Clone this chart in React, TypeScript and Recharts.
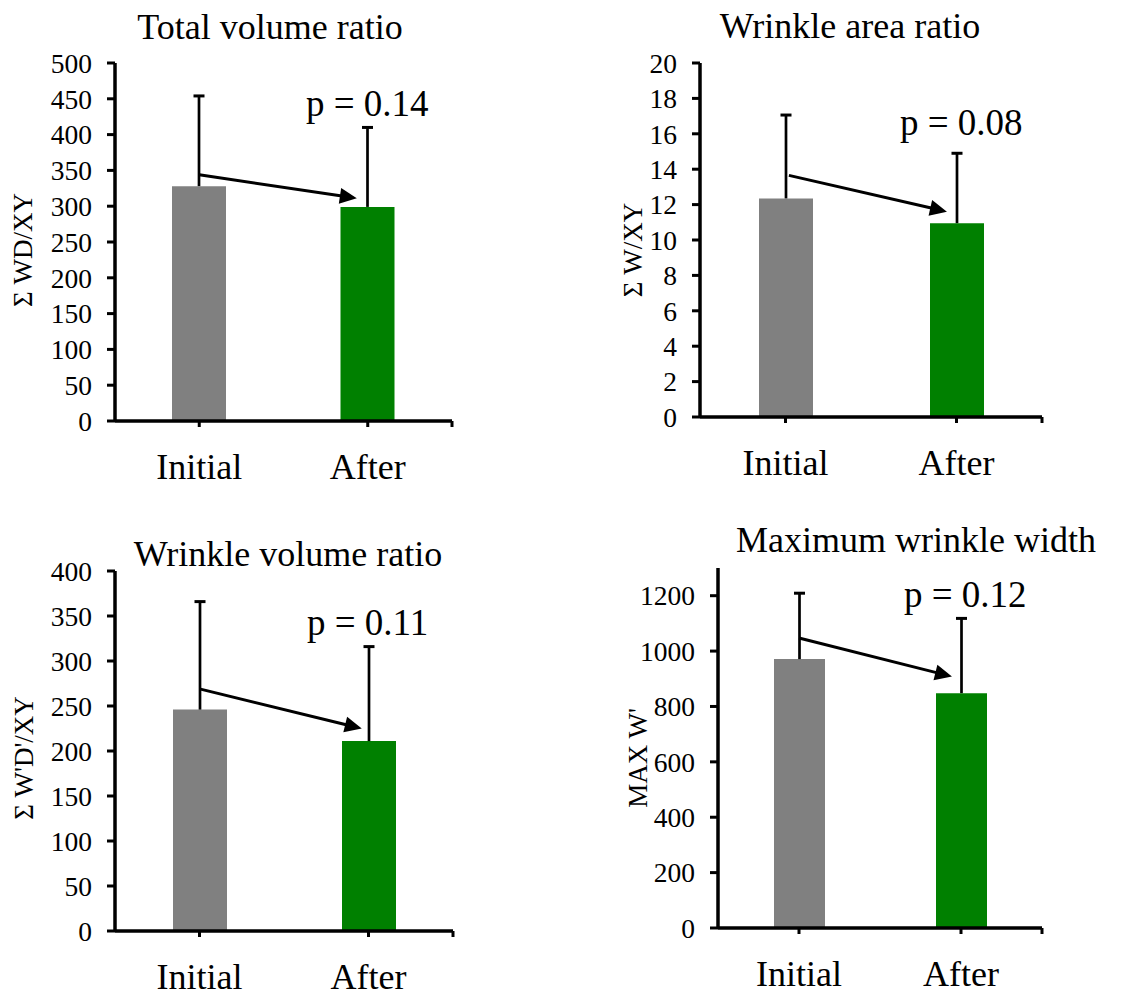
import React from 'react';
import { BarChart, Bar, XAxis, YAxis, Cell, ReferenceLine } from 'recharts';

// ---------- data ----------
const categories = ['Initial', 'After'];
const barColors = ['#808080', '#008000'];

const totalVolumeMean = [328, 299];
const totalVolumeSD = [126, 111];
const totalVolumeArrow = [344, 311];
const totalVolumeTicks = [0, 50, 100, 150, 200, 250, 300, 350, 400, 450, 500];

const wrinkleAreaMean = [12.35, 10.95];
const wrinkleAreaSD = [4.71, 3.95];
const wrinkleAreaArrow = [13.65, 11.6];
const wrinkleAreaTicks = [0, 2, 4, 6, 8, 10, 12, 14, 16, 18, 20];

const wrinkleVolumeMean = [246, 211];
const wrinkleVolumeSD = [120, 105];
const wrinkleVolumeArrow = [269, 225];
const wrinkleVolumeTicks = [0, 50, 100, 150, 200, 250, 300, 350, 400];

const maxWidthMean = [971, 848];
const maxWidthSD = [238, 270];
const maxWidthArrow = [1047, 908];
const maxWidthTicks = [0, 200, 400, 600, 800, 1000, 1200];

const titles = ['Total volume ratio', 'Wrinkle area ratio', 'Wrinkle volume ratio', 'Maximum wrinkle width'];
const yLabels = ['Σ WD/XY', 'Σ W/XY', "Σ W'D'/XY", "MAX W'"];
const pValues = ['p = 0.14', 'p = 0.08', 'p = 0.11', 'p = 0.12'];

const FONT = "'Times New Roman', 'Liberation Serif', serif";

function ErrorShape(props: any) {
  const { x, y, width, height } = props;
  if (x == null || y == null) return null;
  const cx = x + width / 2;
  return (
    <g>
      <line x1={cx} y1={y + height} x2={cx} y2={y} stroke="#000" strokeWidth={2.7} />
      <line x1={cx - 5.5} x2={cx + 5.5} y1={y} y2={y} stroke="#000" strokeWidth={3} />
    </g>
  );
}

function ArrowShape(props: any) {
  const { x1, y1, x2, y2 } = props;
  if ([x1, y1, x2, y2].some((v) => v == null || isNaN(v))) return null;
  const dx = x2 - x1;
  const dy = y2 - y1;
  const len = Math.hypot(dx, dy) || 1;
  const ux = dx / len;
  const uy = dy / len;
  const head = 17;
  const half = 8;
  const bx = x2 - ux * head;
  const by = y2 - uy * head;
  const pts = `${x2},${y2} ${bx - uy * half},${by + ux * half} ${bx + uy * half},${by - ux * half}`;
  return (
    <g>
      <line x1={x1} y1={y1} x2={bx + ux * 2} y2={by + uy * 2} stroke="#000" strokeWidth={3} />
      <polygon points={pts} fill="#000" />
    </g>
  );
}

type Box = { left: number; top: number; w: number; h: number };
type Plot = { l: number; r: number; t: number; b: number };

function Panel(props: {
  means: number[];
  sds: number[];
  arrow: number[];
  arrowX: number[];
  yDomain: [number, number];
  yTicks: number[];
  box: Box;
  plot: Plot;
  barSize: number;
}) {
  const { means, sds, arrow, arrowX, yDomain, yTicks, box, plot, barSize } = props;
  const data = categories.map((c, i) => ({ pos: i + 0.5, name: c, value: means[i], err: sds[i] }));
  const Yw = 80;
  const Xh = 60;
  const margin = {
    left: plot.l - box.left - Yw,
    top: plot.t - box.top,
    right: box.left + box.w - plot.r,
    bottom: box.top + box.h - plot.b - Xh,
  };
  return (
    <div style={{ position: 'absolute', left: box.left, top: box.top }}>
      <BarChart width={box.w} height={box.h} data={data} margin={margin} barSize={barSize}>
        <XAxis
          type="number"
          dataKey="pos"
          domain={[0, 2]}
          ticks={[0.5, 1.5, 2]}
          interval={0}
          tickFormatter={(v: number) => (v === 0.5 ? categories[0] : v === 1.5 ? categories[1] : '')}
          height={Xh}
          tickSize={6}
          tickMargin={26}
          axisLine={{ stroke: '#000', strokeWidth: 3.5 }}
          tickLine={{ stroke: '#000', strokeWidth: 3 }}
          tick={{ fontSize: 36, fill: '#000', fontFamily: FONT }}
        />
        <YAxis
          type="number"
          domain={yDomain}
          ticks={yTicks}
          interval={0}
          width={Yw}
          tickSize={8}
          tickMargin={15}
          axisLine={{ stroke: '#000', strokeWidth: 3.5 }}
          tickLine={{ stroke: '#000', strokeWidth: 3 }}
          tick={{ fontSize: 27.5, fill: '#000', fontFamily: FONT }}
        />
        <Bar dataKey="value" stackId="s" isAnimationActive={false}>
          {data.map((d, i) => (
            <Cell key={d.name} fill={barColors[i]} />
          ))}
        </Bar>
        <Bar dataKey="err" stackId="s" isAnimationActive={false} shape={ErrorShape} />
        <ReferenceLine
          segment={[
            { x: arrowX[0], y: arrow[0] },
            { x: arrowX[1], y: arrow[1] },
          ]}
          shape={ArrowShape}
        />
      </BarChart>
    </div>
  );
}

export default function App() {
  const textStyle = { fontFamily: FONT, fill: '#000' } as const;
  return (
    <div
      style={{
        position: 'absolute',
        left: 0,
        top: 0,
        width: 1123,
        height: 994,
        background: '#fff',
        overflow: 'hidden',
        fontFamily: FONT,
      }}
    >
      <style>{`.recharts-text, .recharts-cartesian-axis-tick-value { font-family: 'Times New Roman', 'Liberation Serif', serif !important; }`}</style>
      <Panel
        means={totalVolumeMean}
        sds={totalVolumeSD}
        arrow={totalVolumeArrow}
        arrowX={[0.5, 1.435]}
        yDomain={[0, 500]}
        yTicks={totalVolumeTicks}
        box={{ left: 0, top: 0, w: 560, h: 500 }}
        plot={{ l: 115, r: 452, t: 63, b: 421 }}
        barSize={54}
      />
      <Panel
        means={wrinkleAreaMean}
        sds={wrinkleAreaSD}
        arrow={wrinkleAreaArrow}
        arrowX={[0.52, 1.444]}
        yDomain={[0, 20]}
        yTicks={wrinkleAreaTicks}
        box={{ left: 560, top: 0, w: 563, h: 500 }}
        plot={{ l: 700, r: 1042, t: 63, b: 417 }}
        barSize={54}
      />
      <Panel
        means={wrinkleVolumeMean}
        sds={wrinkleVolumeSD}
        arrow={wrinkleVolumeArrow}
        arrowX={[0.5, 1.46]}
        yDomain={[0, 400]}
        yTicks={wrinkleVolumeTicks}
        box={{ left: 0, top: 500, w: 560, h: 494 }}
        plot={{ l: 115, r: 453, t: 571, b: 931 }}
        barSize={54}
      />
      <Panel
        means={maxWidthMean}
        sds={maxWidthSD}
        arrow={maxWidthArrow}
        arrowX={[0.5, 1.444]}
        yDomain={[0, 1300]}
        yTicks={maxWidthTicks}
        box={{ left: 560, top: 500, w: 563, h: 494 }}
        plot={{ l: 718, r: 1042, t: 568, b: 928 }}
        barSize={51}
      />
      <svg
        width={1123}
        height={994}
        style={{ position: 'absolute', left: 0, top: 0, pointerEvents: 'none' }}
      >
        <text x={270} y={39} textAnchor="middle" fontSize={36} style={textStyle}>{titles[0]}</text>
        <text x={850} y={38} textAnchor="middle" fontSize={36} style={textStyle}>{titles[1]}</text>
        <text x={288} y={566} textAnchor="middle" fontSize={36} style={textStyle}>{titles[2]}</text>
        <text x={916} y={552} textAnchor="middle" fontSize={36} style={textStyle}>{titles[3]}</text>

        <text transform="translate(32,250) rotate(-90)" textAnchor="middle" fontSize={27} style={textStyle}>{yLabels[0]}</text>
        <text transform="translate(642,250) rotate(-90)" textAnchor="middle" fontSize={27} style={textStyle}>{yLabels[1]}</text>
        <text transform="translate(33,758) rotate(-90)" textAnchor="middle" fontSize={27} style={textStyle}>{yLabels[2]}</text>
        <text transform="translate(647,758) rotate(-90)" textAnchor="middle" fontSize={27} style={textStyle}>{yLabels[3]}</text>

        <text x={306} y={116} fontSize={37} style={textStyle}>{pValues[0]}</text>
        <text x={900} y={135} fontSize={37} style={textStyle}>{pValues[1]}</text>
        <text x={307} y={635} fontSize={37} style={textStyle}>{pValues[2]}</text>
        <text x={904} y={607} fontSize={37} style={textStyle}>{pValues[3]}</text>
      </svg>
    </div>
  );
}
